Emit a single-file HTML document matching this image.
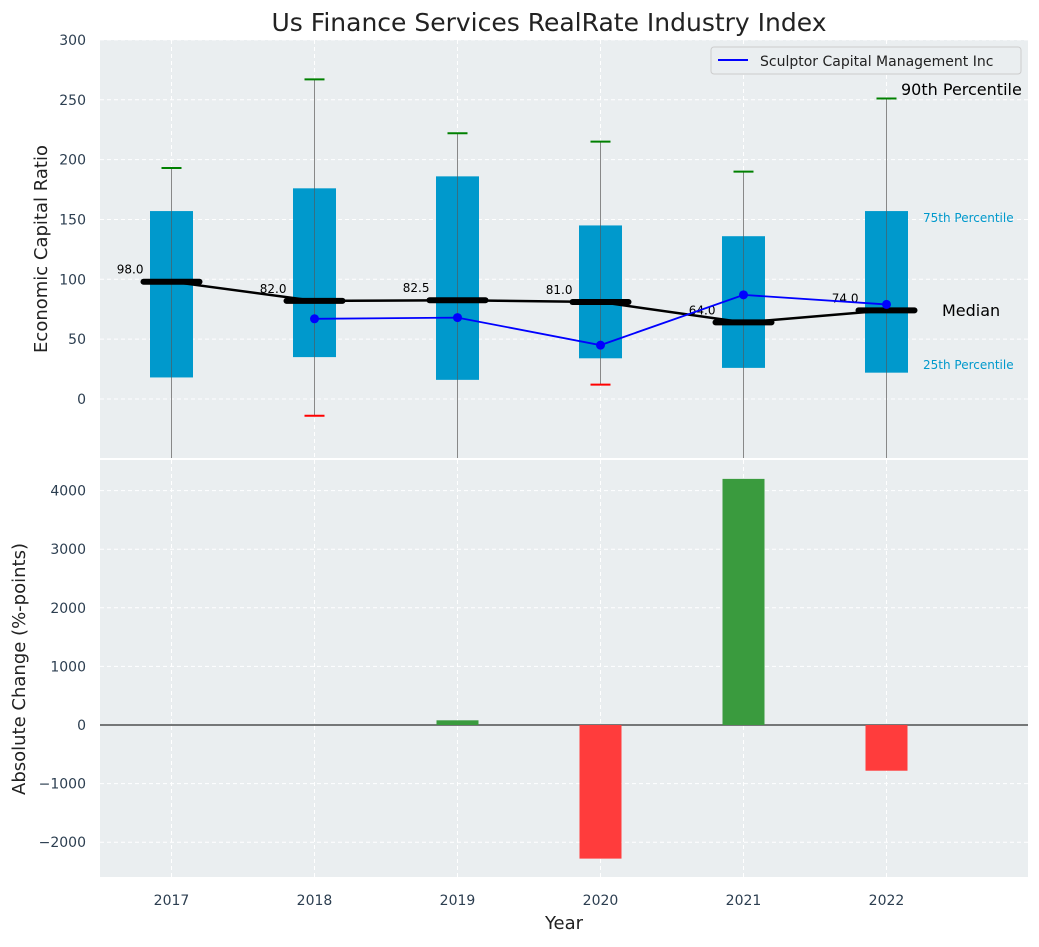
<!DOCTYPE html>
<html><head><meta charset="utf-8"><style>
body{margin:0;background:#fff;font-family:"Liberation Sans","DejaVu Sans",sans-serif}
svg text{font-family:"DejaVu Sans","Liberation Sans",sans-serif}
</style></head><body>
<svg id="c" width="1039" height="942"></svg>
<script>
const years=["2017","2018","2019","2020","2021","2022"];
const q1=[18,35,16,34,26,22];
const q3=[157,176,186,145,136,157];
const medians=[98,82,82.5,81,64,74];
const whiskHi=[193,267,222,215,190,251];
const whiskLo=[-60,-14,-60,12,-60,-60];
const companyVals=[null,67,68,45,87,79];
const changes=[0,0,80,-2280,4200,-780];
const topTicks=[0,50,100,150,200,250,300];
const botTicks=[-2000,-1000,0,1000,2000,3000,4000];

const NS="http://www.w3.org/2000/svg",svg=document.getElementById('c');
function el(t,a,p){const e=document.createElementNS(NS,t);for(const k in a)e.setAttribute(k,a[k]);(p||svg).appendChild(e);return e;}
const X=i=>100+(i+0.5)*143;
const Yt=v=>399-v*1.197;
const Yb=v=>725-v*0.0586;
const L=100,R=1028;

// panels
let p1=el('rect',{x:L,y:40,width:R-L,height:418,fill:'#eaeef0'});

let p2=el('rect',{x:L,y:460,width:R-L,height:417,fill:'#eaeef0'});


// grids & ticks
topTicks.forEach(v=>{const y=Yt(v);el('line',{x1:L,x2:R,y1:y,y2:y,stroke:'#fff','stroke-dasharray':'4,3'});
 const t=el('text',{x:86,y:y+5,'text-anchor':'end','font-size':14,fill:'#2c3e50'});t.textContent=v;
 });
botTicks.forEach(v=>{const y=Yb(v);el('line',{x1:L,x2:R,y1:y,y2:y,stroke:'#fff','stroke-dasharray':'4,3'});
 const t=el('text',{x:86,y:y+5,'text-anchor':'end','font-size':14,fill:'#2c3e50'});t.textContent=v<0?'\u2212'+(-v):v;
 });
years.forEach((yr,i)=>{const x=X(i);
 el('line',{x1:x,x2:x,y1:40,y2:458,stroke:'#fff','stroke-dasharray':'4,3'});
 el('line',{x1:x,x2:x,y1:460,y2:877,stroke:'#fff','stroke-dasharray':'4,3'});
 const t=el('text',{x:x,y:905,'text-anchor':'middle','font-size':14,fill:'#2c3e50'});t.textContent=yr;
 });

// boxes
years.forEach((yr,i)=>{const x=X(i);
 el('line',{x1:x,x2:x,y1:Math.min(458,Yt(whiskLo[i])),y2:Yt(whiskHi[i]),stroke:'#888','stroke-width':1});
 const b=el('rect',{x:x-21.5,y:Yt(q3[i]),width:43,height:Yt(q1[i])-Yt(q3[i]),fill:'#0099cc'});
 
 el('line',{x1:x,x2:x,y1:Yt(q3[i]),y2:Yt(q1[i]),stroke:'#555','stroke-width':1,opacity:0.6});
 el('line',{x1:x-10,x2:x+10,y1:Yt(whiskHi[i]),y2:Yt(whiskHi[i]),stroke:'green','stroke-width':2});
 if(whiskLo[i]>-49) el('line',{x1:x-10,x2:x+10,y1:Yt(whiskLo[i]),y2:Yt(whiskLo[i]),stroke:'red','stroke-width':2});
});
// median line
el('polyline',{points:medians.map((m,i)=>X(i)+','+Yt(m)).join(' '),fill:'none',stroke:'#000','stroke-width':2.5});
medians.forEach((m,i)=>{const x=X(i);
 const ml=el('line',{x1:x-28,x2:x+28,y1:Yt(m),y2:Yt(m),stroke:'#000','stroke-width':6,'stroke-linecap':'round'});
 
 const t=el('text',{x:x-28,y:Yt(m)-8,'text-anchor':'end','font-size':12});t.textContent=m.toFixed(1);
 });
// company line
const pts=companyVals.map((v,i)=>v==null?null:[X(i),Yt(v)]).filter(p=>p);
el('polyline',{points:pts.map(p=>p.join(',')).join(' '),fill:'none',stroke:'blue','stroke-width':1.8});
pts.forEach(p=>{const c=el('circle',{cx:p[0],cy:p[1],r:4.5,fill:'blue'});
 });

// annotations
[['90th Percentile',901,95,16,'#000'],['75th Percentile',923,222,12,'#0099cc'],['25th Percentile',923,369,12,'#0099cc'],['Median',942,316,16,'#000']].forEach(a=>{
 const t=el('text',{x:a[1],y:a[2],'font-size':a[3],fill:a[4]});t.textContent=a[0];
 });

// legend
const lg=el('g',{});
el('rect',{x:711,y:47,width:310,height:27,rx:3,fill:'#eaeef0',stroke:'#ccc'},lg);
el('line',{x1:718,x2:748,y1:60,y2:60,stroke:'blue','stroke-width':2},lg);
const lt=el('text',{x:760,y:66,'font-size':14,fill:'#222'},lg);lt.textContent='Sculptor Capital Management Inc';

// bars
el('line',{x1:L,x2:R,y1:Yb(0),y2:Yb(0),stroke:'#000','stroke-width':1});
changes.forEach((v,i)=>{if(!v)return;const x=X(i);
 const b=el('rect',{x:x-21,y:Math.min(Yb(v),Yb(0)),width:42,height:Math.abs(Yb(v)-Yb(0)),fill:v>0?'#3a9b3e':'#ff3c3c'});
 });

// titles
let t=el('text',{x:549,y:31,'text-anchor':'middle','font-size':25,fill:'#222'});t.textContent='Us Finance Services RealRate Industry Index';

t=el('text',{x:564,y:929,'text-anchor':'middle','font-size':18,fill:'#222'});t.textContent='Year';

t=el('text',{x:47,y:249,'text-anchor':'middle','font-size':18,fill:'#222',transform:'rotate(-90 47 249)'});t.textContent='Economic Capital Ratio';

t=el('text',{x:25,y:669,'text-anchor':'middle','font-size':18,fill:'#222',transform:'rotate(-90 25 669)'});t.textContent='Absolute Change (%-points)';

</script>
</body></html>
